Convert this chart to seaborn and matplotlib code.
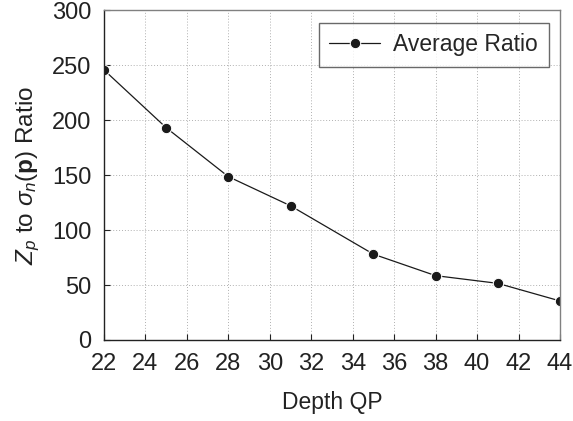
import matplotlib
matplotlib.use("Agg")
import matplotlib.pyplot as plt
import seaborn as sns
import pandas as pd

depth_qp = [22, 25, 28, 31, 35, 38, 41, 44]
avg_ratio = [245.5, 193, 148.5, 122, 78, 58.5, 51.5, 35.5]
x_ticks = list(range(22, 45, 2))
y_ticks = list(range(0, 301, 50))

sns.set_style("whitegrid")
plt.rcParams['font.family'] = ['Liberation Sans', 'DejaVu Sans']
plt.rcParams['mathtext.fontset'] = 'custom'
plt.rcParams['mathtext.rm'] = 'Liberation Sans'
plt.rcParams['mathtext.it'] = 'Liberation Sans:italic'
plt.rcParams['mathtext.bf'] = 'Liberation Sans:bold'

df = pd.DataFrame({"Depth QP": depth_qp, "Average Ratio": avg_ratio})

fig = plt.figure(figsize=(5.73, 4.21), dpi=100)
ax = fig.add_axes([104/573, 1 - 340/421, 456/573, 330/421])

sns.lineplot(data=df, x="Depth QP", y="Average Ratio", ax=ax, color="#1a1a1a",
             marker="o", markersize=7.5, linewidth=0.9, label="Average Ratio")

ax.set_xlim(22, 44)
ax.set_ylim(0, 300)
ax.set_xticks(x_ticks)
ax.set_yticks(y_ticks)
ax.grid(True, linestyle=(0, (1, 2)), color="#b0b0b0", linewidth=0.7)
for s in ax.spines.values():
    s.set_visible(True)
    s.set_color("#808080")
    s.set_linewidth(1.0)
ax.spines["left"].set_color("#222222")
ax.spines["bottom"].set_color("#222222")
ax.tick_params(direction="in", length=4, width=0.8, colors="#222222", labelsize=17,
               bottom=True, left=True, pad=9)
ax.set_xlabel("Depth QP", fontsize=16.5, labelpad=12, color="#222222")
ax.set_ylabel(r"$Z_p$ to $\sigma_n(\mathbf{p})$ Ratio", fontsize=17.5, labelpad=7, color="#222222")

leg = ax.legend(loc="upper right", fontsize=16.5, frameon=True, fancybox=False,
                borderpad=0.45, handlelength=2.2, handletextpad=0.6,
                bbox_to_anchor=(1.0, 0.995))
leg.get_frame().set_edgecolor("#444444")
leg.get_frame().set_linewidth(1.0)

fig.savefig("out.png", dpi=100)
